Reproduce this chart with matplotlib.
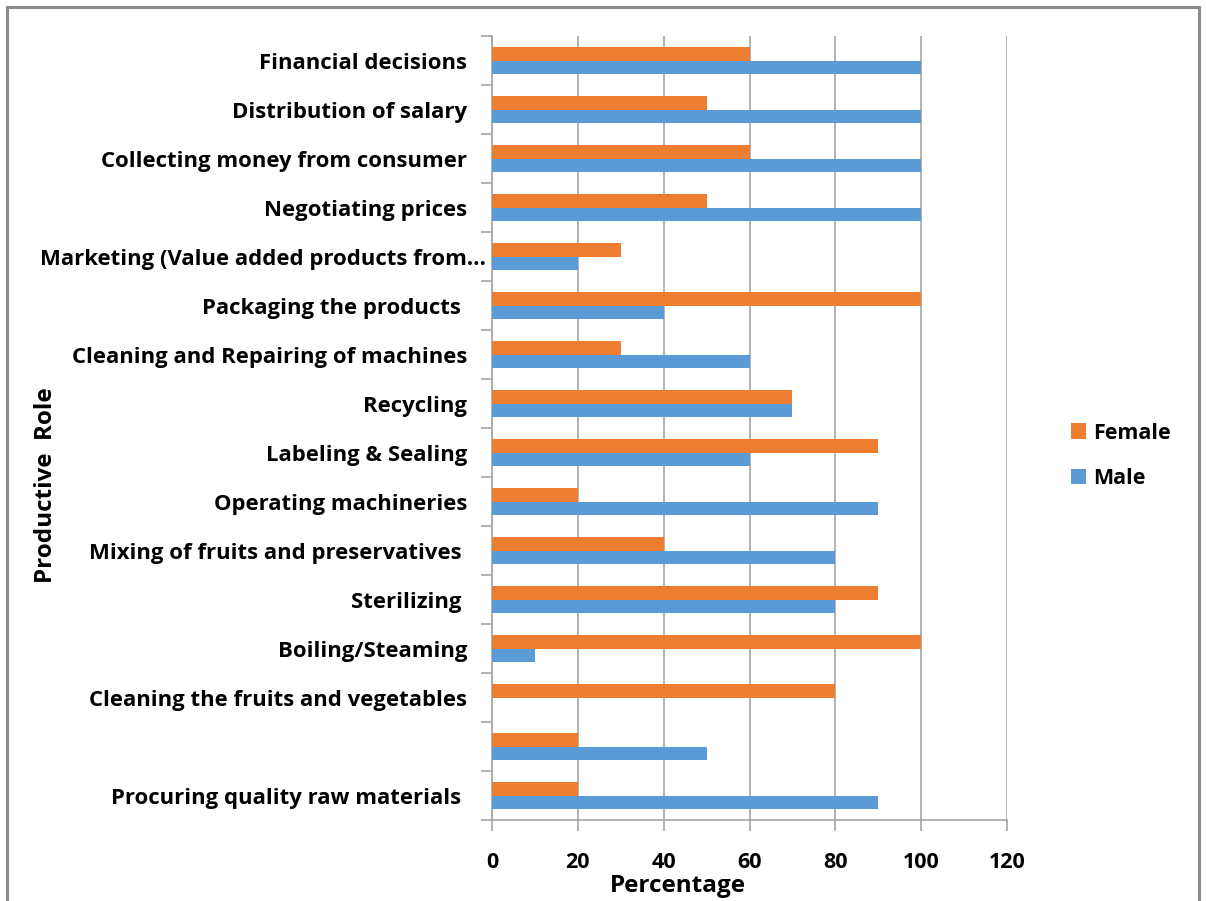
import matplotlib.pyplot as plt
import numpy as np
from matplotlib.patches import Rectangle
from matplotlib.transforms import ScaledTranslation

plt.rcParams['font.family'] = ['Open Sans', 'DejaVu Sans']
plt.rcParams['font.weight'] = 'bold'

# Productive roles, listed top to bottom
roles = ['Financial decisions', 'Distribution of salary', 'Collecting money from consumer',
         'Negotiating prices', 'Marketing (Value added products from\u2026', 'Packaging the products ',
         'Cleaning and Repairing of machines', 'Recycling', 'Labeling & Sealing',
         'Operating machineries', 'Mixing of fruits and preservatives ', 'Sterilizing ',
         'Boiling/Steaming', 'Cleaning the fruits and vegetables', '',
         'Procuring quality raw materials ']
female = [60, 50, 60, 50, 30, 100, 30, 70, 90, 20, 40, 90, 100, 80, 20, 20]
male = [100, 100, 100, 100, 20, 40, 60, 70, 60, 90, 80, 80, 10, 0, 50, 90]
xticks = [0, 20, 40, 60, 80, 100, 120]

orange = '#ED7D31'
blue = '#5B9BD5'
grid_gray = '#A6A6A6'

fig = plt.figure(figsize=(12.06, 9.01), dpi=100)
ax = fig.add_axes([0.408, 0.0899, 0.427, 0.870])

y = np.arange(len(roles))
h = 0.275
ax.barh(y - h / 2, female, height=h, color=orange, label='Female', zorder=3)
ax.barh(y + h / 2, male, height=h, color=blue, label='Male', zorder=3)

ax.set_ylim(len(roles) - 0.5, -0.5)
ax.set_xlim(0, 120)
ax.set_xticks(xticks)
ax.xaxis.grid(True, color=grid_gray, linewidth=1.2, zorder=0)

# category labels centred, tick marks on the band boundaries
ax.set_yticks(y)
ax.set_yticklabels(roles, fontsize=15.9, fontweight='bold')
ax.set_yticks(np.arange(-0.5, len(roles), 1.0), minor=True)
ax.tick_params(axis='y', which='major', length=0, pad=18)
ax.tick_params(axis='y', which='minor', length=8, color=grid_gray, width=1.2)
ax.tick_params(axis='x', length=8, color=grid_gray, width=1.2, pad=15, labelsize=15.5)
for lbl in ax.get_xticklabels():
    lbl.set_fontweight('bold')

# the truncated label runs a little further right
long_lbl = ax.get_yticklabels()[4]
long_lbl.set_transform(long_lbl.get_transform() + ScaledTranslation(19 / 100, 0, fig.dpi_scale_trans))

for s in ['top', 'right']:
    ax.spines[s].set_visible(False)
for s in ['left', 'bottom']:
    ax.spines[s].set_color(grid_gray)
    ax.spines[s].set_linewidth(1.2)

fig.text(0.5625, 0.017, 'Percentage', ha='center', va='center', fontsize=17.5, fontweight='bold')
fig.text(0.038, 0.462, 'Productive  Role', ha='center', va='center', rotation=90,
         fontsize=17.5, fontweight='bold')

handles, labels = ax.get_legend_handles_labels()
fig.legend(handles, labels, loc='center left', bbox_to_anchor=(0.872, 0.494), frameon=False,
           handlelength=0.7, handleheight=0.7, handletextpad=0.35,
           labelspacing=1.15, prop={'weight': 'bold', 'size': 15.5})

# outer chart frame
fig.patches.append(Rectangle((0.0062, -0.05), 0.9876, 1.042, transform=fig.transFigure,
                             fill=False, edgecolor='#8C8C8C', linewidth=2.2))

fig.savefig('out.png', dpi=100)
